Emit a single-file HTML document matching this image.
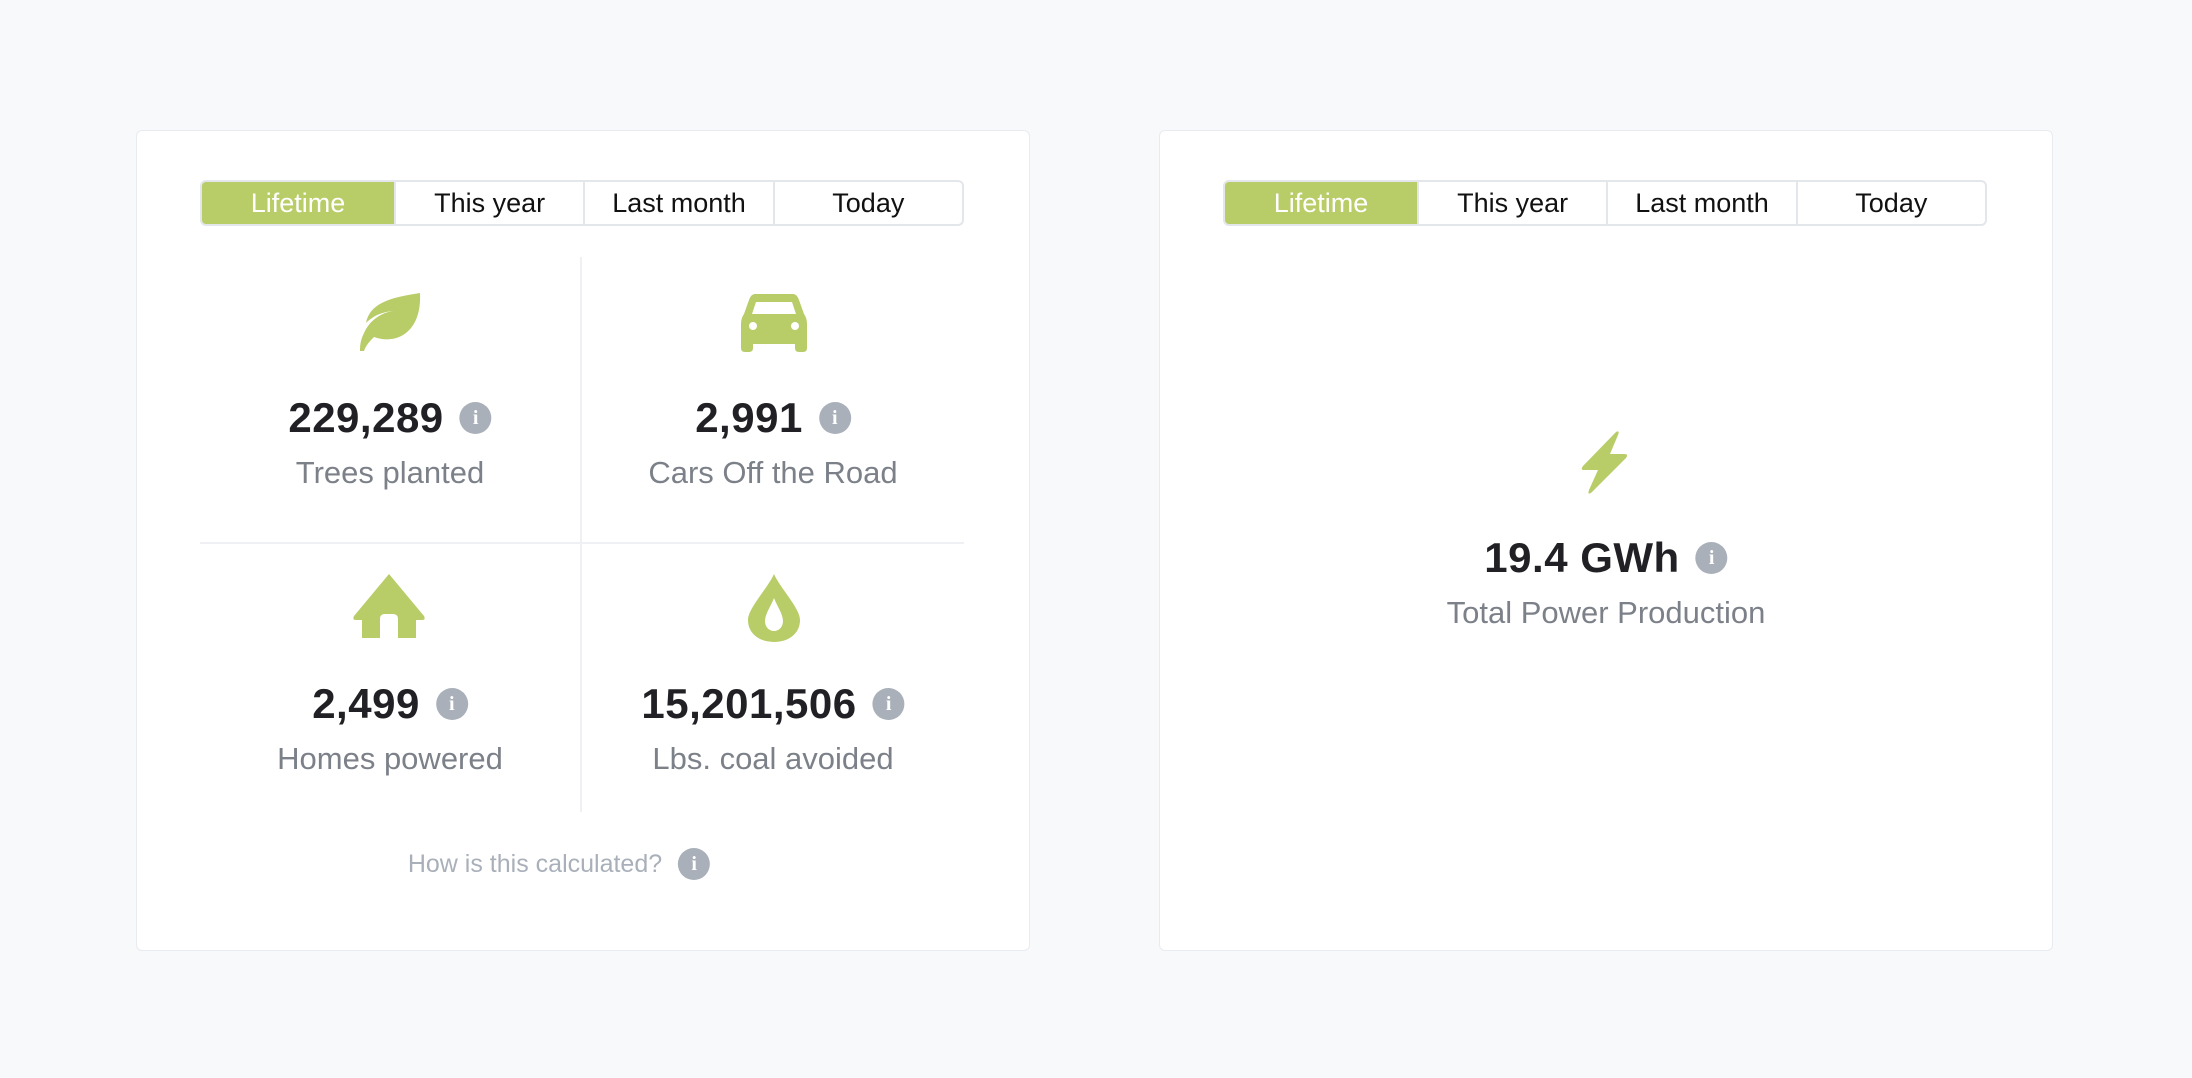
<!DOCTYPE html>
<html><head><meta charset="utf-8"><style>
*{margin:0;padding:0;box-sizing:border-box}
body{width:2192px;height:1078px;background:#f8f9fb;font-family:"Liberation Sans",sans-serif;position:relative;overflow:hidden}
.card{position:absolute;top:130px;width:894px;height:821px;background:#fff;border:1.5px solid #e8ebef;border-radius:6px}
.tabs{position:absolute;top:49px;left:63px;width:764px;height:46px;border:2px solid #e3e6ea;border-radius:6px;display:flex;overflow:hidden}
.tabs div{flex:1;display:flex;align-items:center;justify-content:center;font-size:27px;color:#111;border-left:2px solid #e3e6ea}
.tabs div:first-child{border-left:none;background:#b8cc68;color:#fff;flex:0 0 192px}
.a{position:absolute;text-align:center;white-space:nowrap}
.num{font-weight:bold;font-size:42px;letter-spacing:0.5px;color:#212125;display:flex;align-items:center;justify-content:center;gap:16px;transform:translateX(-50%)}
.lbl{font-size:31px;color:#7c8189;transform:translateX(-50%)}
.i{display:inline-block;width:32px;height:32px;border-radius:50%;background:#a9b0b9;color:#fff;font-size:20px;font-weight:bold;line-height:32px;text-align:center;font-family:"Liberation Serif",serif;letter-spacing:0}
svg{position:absolute}
</style></head><body>
<div class="card" style="left:136px">
  <div class="tabs"><div>Lifetime</div><div>This year</div><div>Last month</div><div>Today</div></div>
  <div style="position:absolute;left:443px;top:126px;width:2px;height:555px;background:#eef0f3"></div>
  <div style="position:absolute;left:63px;top:411px;width:764px;height:2px;background:#eef0f3"></div>
  <svg style="left:219px;top:162px" width="68" height="58" viewBox="0 0 68 58"><path d="M64 0 C40 4 14 8 10 30 C20 20 32 18 40 18 C28 18 14 26 8 40 C4 48 4 54 4 58 L8 58 C10 52 14 48 18 44 C40 52 66 40 64 0Z" fill="#b8cc68"/></svg>
  <svg style="left:604px;top:163px" width="66" height="58" viewBox="0 0 66 58"><path d="M14 0 H52 Q56 0 58 6 L63 20 Q66 24 66 30 V54 Q66 58 62 58 H58 Q54 58 54 54 V50 H12 V54 Q12 58 8 58 H4 Q0 58 0 54 V30 Q0 24 3 20 L8 6 Q10 0 14 0Z" fill="#b8cc68"/><path d="M15 8 H51 L55 20 H11Z" fill="#fff"/><circle cx="12" cy="32" r="4" fill="#fff"/><circle cx="54" cy="32" r="4" fill="#fff"/></svg>
  <div class="a num" style="left:253px;top:263px">229,289<span class="i">i</span></div>
  <div class="a lbl" style="left:253px;top:324px">Trees planted</div>
  <div class="a num" style="left:636px;top:263px">2,991<span class="i">i</span></div>
  <div class="a lbl" style="left:636px;top:324px">Cars Off the Road</div>
  <svg style="left:215px;top:443px" width="74" height="64" viewBox="0 0 74 64"><path d="M37 0 L72 42 Q74 46 70 46 H64 V64 H46 V45 Q46 40 41 40 H33 Q28 40 28 45 V64 H10 V46 H4 Q0 46 2 42Z" fill="#b8cc68"/></svg>
  <svg style="left:611px;top:443px" width="52" height="68" viewBox="0 0 52 68"><path d="M26 0 C32 14 52 34 52 46 C52 60 40 68 26 68 C12 68 0 60 0 46 C0 34 20 14 26 0Z" fill="#b8cc68"/><path d="M26 24 C29 32 35 40 35 47 C35 53 31 57 26 57 C21 57 17 53 17 47 C17 40 23 32 26 24Z" fill="#fff"/></svg>
  <div class="a num" style="left:253px;top:549px">2,499<span class="i">i</span></div>
  <div class="a lbl" style="left:253px;top:610px">Homes powered</div>
  <div class="a num" style="left:636px;top:549px">15,201,506<span class="i">i</span></div>
  <div class="a lbl" style="left:636px;top:610px">Lbs. coal avoided</div>
  <div class="a" style="left:422px;top:717px;transform:translateX(-50%);font-size:25px;color:#a9b0b9;display:flex;align-items:center;gap:16px">How is this calculated?<span class="i">i</span></div>
</div>
<div class="card" style="left:1159px">
  <div class="tabs"><div>Lifetime</div><div>This year</div><div>Last month</div><div>Today</div></div>
  <svg style="left:420px;top:299px" width="50" height="65" viewBox="0 0 50 65"><path d="M36 2 Q40 0 38 5 L30 24 H44 Q49 24 46 28 L12 62 Q7 66 9 60 L18 40 H4 Q0 40 3 36Z" fill="#b8cc68"/></svg>
  <div class="a num" style="left:446px;top:403px">19.4 GWh<span class="i">i</span></div>
  <div class="a lbl" style="left:446px;top:464px">Total Power Production</div>
</div>
</body></html>
